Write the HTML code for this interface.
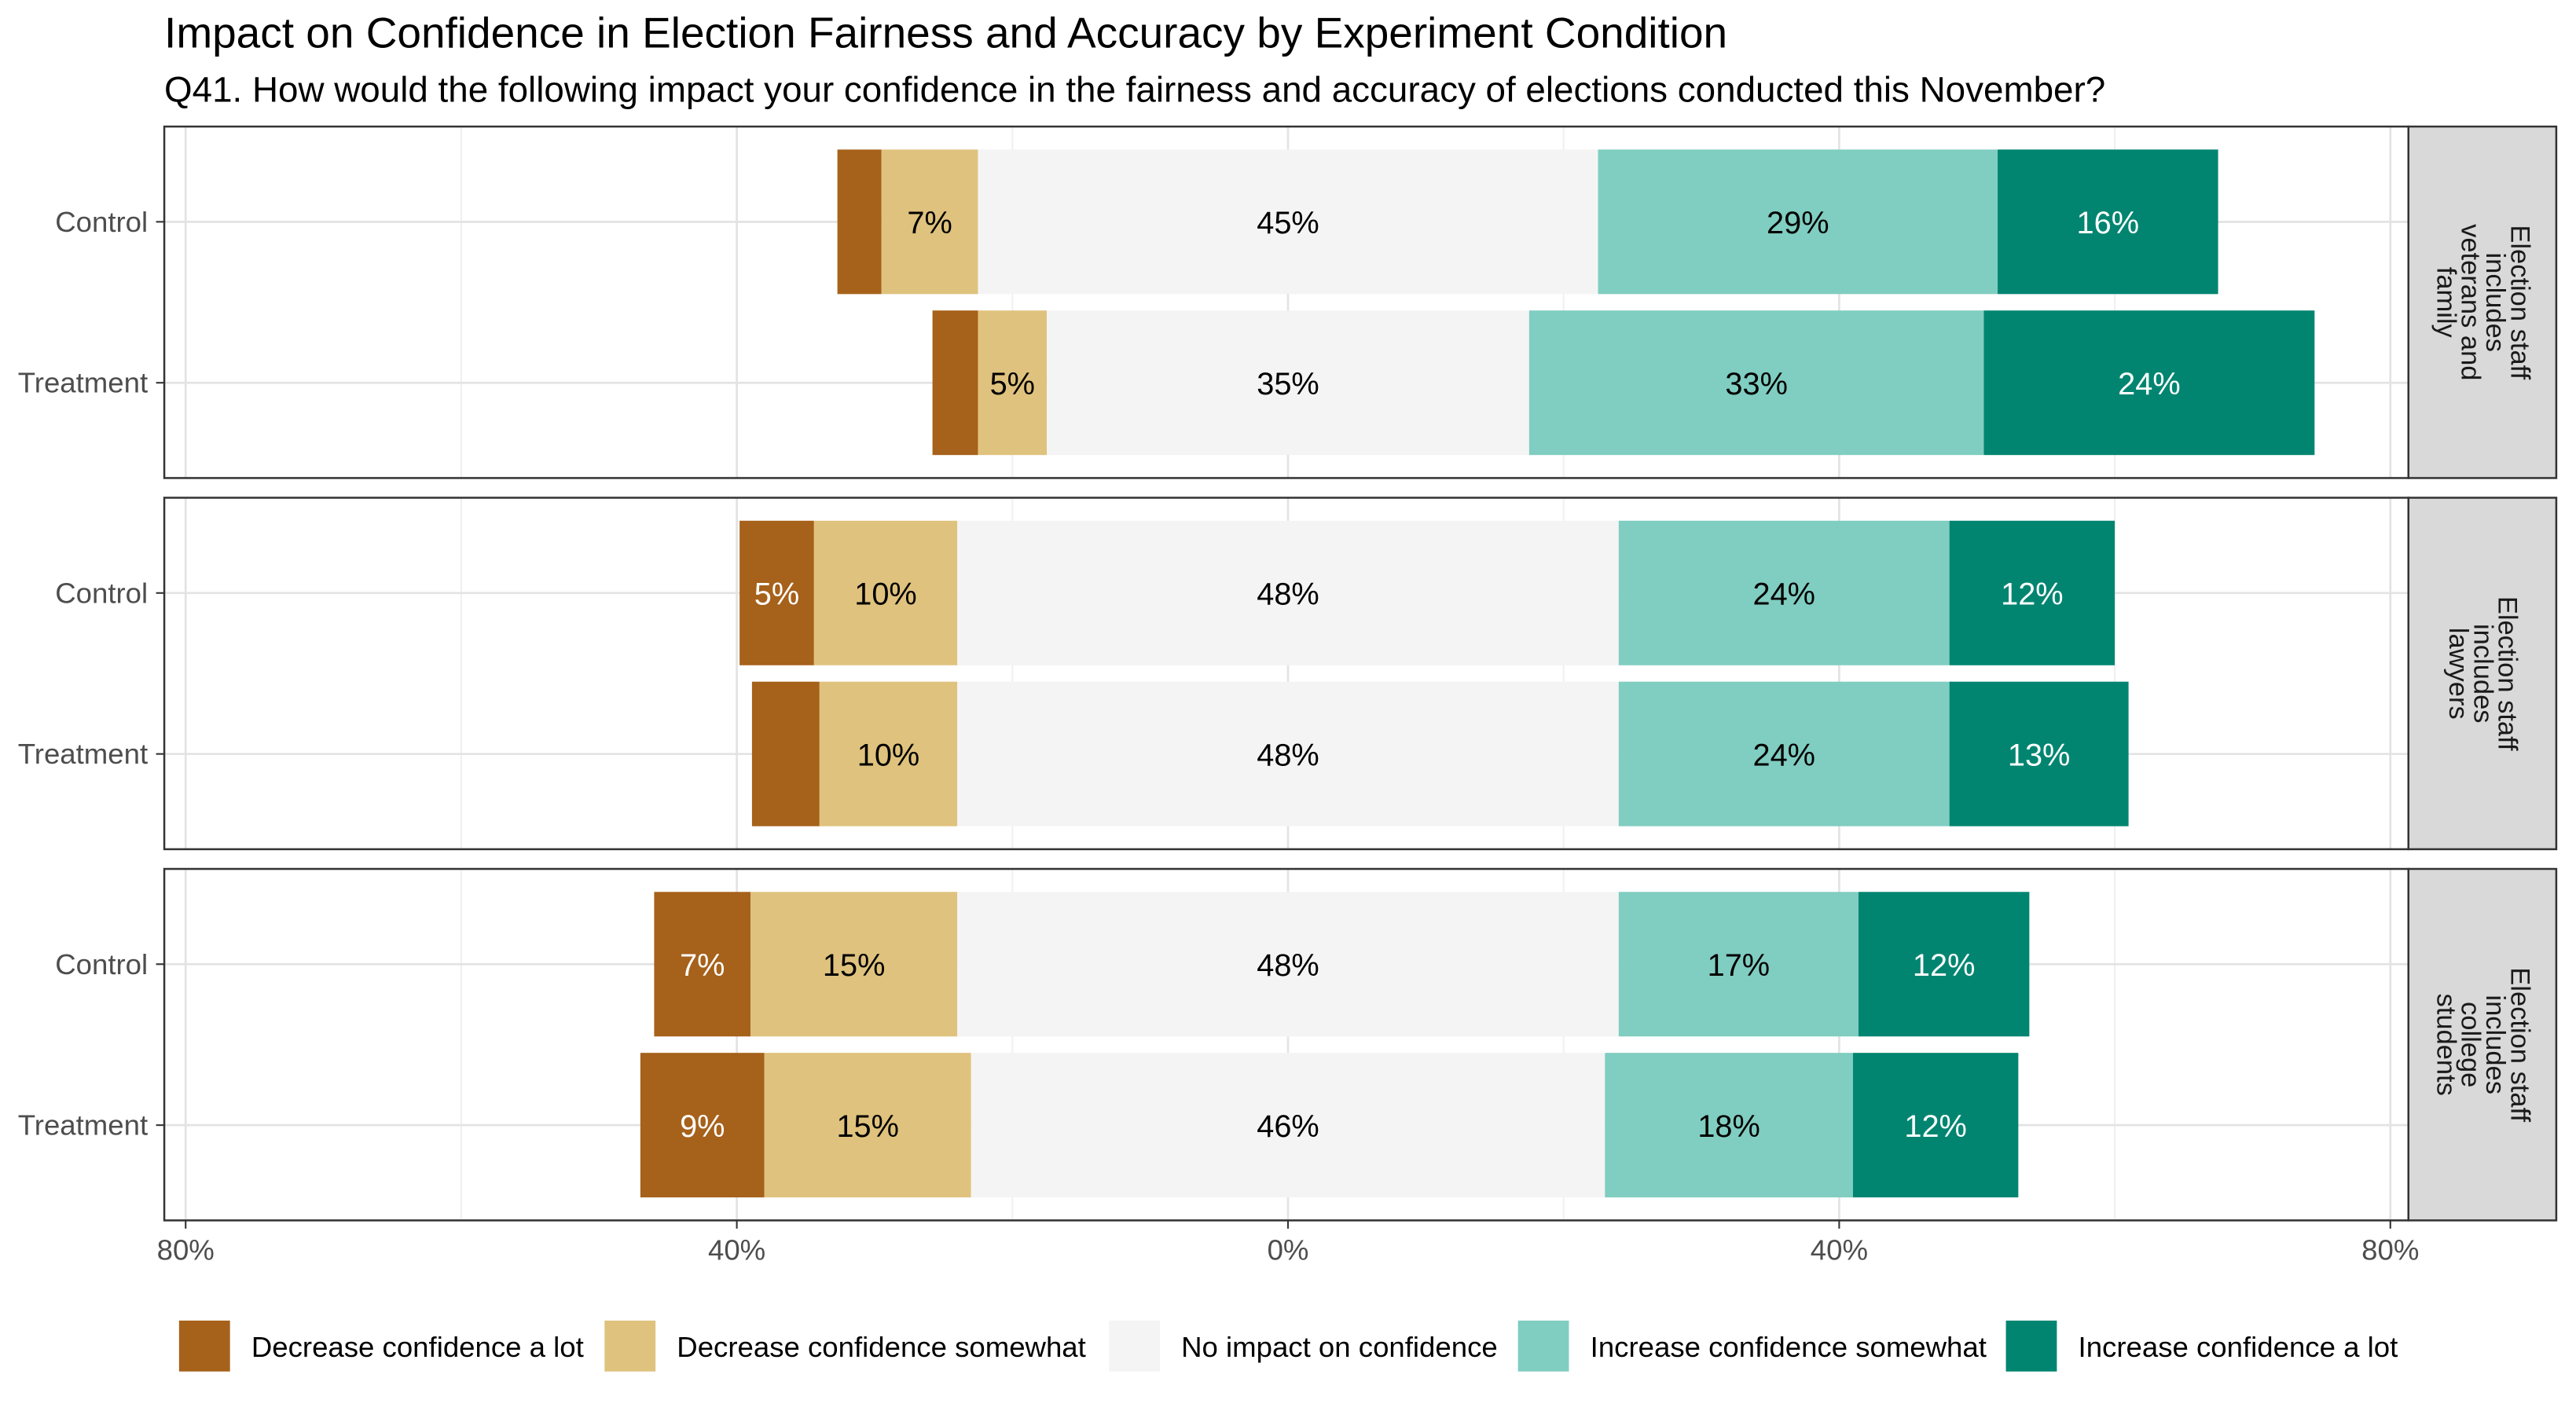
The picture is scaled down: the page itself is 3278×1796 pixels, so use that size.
<!DOCTYPE html>
<html><head><meta charset="utf-8"><style>
html,body{margin:0;padding:0;background:#fff}
svg{display:block;font-family:"Liberation Sans",Arial,sans-serif}
</style></head><body>
<svg id="chart" width="3278" height="1796" viewBox="0 0 1568 859" xmlns="http://www.w3.org/2000/svg">
<text x="100" y="29" font-size="26.3" fill="#000">Impact on Confidence in Election Fairness and Accuracy by Experiment Condition</text>
<text x="100" y="62" font-size="21.9" fill="#000">Q41. How would the following impact your confidence in the fairness and accuracy of elections conducted this November?</text>
<g id="plot"></g>
<g id="legend"></g>
</svg>
<script>
const panels = ["Election staff includes veterans and family","Election staff includes lawyers","Election staff includes college students"];
const stripLines = [["Election staff","includes","veterans and","family"],["Election staff","includes","lawyers"],["Election staff","includes","college","students"]];
const conditions = ["Control","Treatment"];
const categories = ["Decrease confidence a lot","Decrease confidence somewhat","No impact on confidence","Increase confidence somewhat","Increase confidence a lot"];
const decLot  = [[3.2,3.3],[5.4,4.9],[7,9]];
const decSome = [[7,5],[10.4,10],[15,15]];
const noImpact= [[45,35],[48,48],[48,46]];
const incSome = [[29,33],[24,24],[17.4,18]];
const incLot  = [[16,24],[12,13],[12.4,12]];
const xTicks = [-80,-40,0,40,80];
const xTickLabels = ["80%","40%","0%","40%","80%"];
const xMinor = [-60,-20,20,60];

const colors = ["#a6611a","#dfc27d","#f4f4f4","#80cdc1","#018571"];
const textColors = ["#fff","#000","#000","#000","#fff"];
const NS="http://www.w3.org/2000/svg";
const X0=100,X1=1466,panelTops=[77,303,529],PH=214;
const xs = v => 784 + v*(1455-113)/160;
const plot=document.getElementById('plot');
function mk(tag,attrs,parent){const e=document.createElementNS(NS,tag);for(const k in attrs)e.setAttribute(k,attrs[k]);parent.appendChild(e);return e;}

panels.forEach((p,pi)=>{
  const top=panelTops[pi];
  const g=mk('g',{},plot);
  
  
  mk('rect',{x:X0,y:top,width:X1-X0,height:PH,fill:'#fff'},g);
  xMinor.forEach(t=>{mk('line',{x1:xs(t),x2:xs(t),y1:top,y2:top+PH,stroke:'#f0f0f0','stroke-width':1},g);});
  xTicks.forEach(t=>{mk('line',{x1:xs(t),x2:xs(t),y1:top,y2:top+PH,stroke:'#e3e3e3','stroke-width':1.3},g);});
  conditions.forEach((c,ci)=>{
    const cy=top+58+ci*98;
    mk('line',{x1:X0,x2:X1,y1:cy,y2:cy,stroke:'#e3e3e3','stroke-width':1.3},g);
    const vals=[decLot[pi][ci],decSome[pi][ci],noImpact[pi][ci],incSome[pi][ci],incLot[pi][ci]];
    let start=-(vals[2]/2+vals[1]+vals[0]);
    vals.forEach((v,k)=>{
      const r=mk('rect',{x:xs(start),y:cy-44,width:xs(start+v)-xs(start),height:88,fill:colors[k]},g);
      
      
      if(v>=5){
        const t=mk('text',{x:(xs(start)+xs(start+v))/2,y:cy+7,'text-anchor':'middle','font-size':19,fill:textColors[k]},g);
        t.textContent=Math.round(v)+'%';
        
        
      }
      start+=v;
    });
    const yl=mk('text',{x:90,y:cy+6,'text-anchor':'end','font-size':17.5,fill:'#4d4d4d'},g);
    yl.textContent=c;
    
    
    mk('line',{x1:95,x2:X0,y1:cy,y2:cy,stroke:'#333','stroke-width':1},g);
  });
  mk('rect',{x:X0,y:top,width:X1-X0,height:PH,fill:'none',stroke:'#333','stroke-width':1.2},g);
  const s=mk('rect',{x:X1,y:top,width:90,height:PH,fill:'#d9d9d9',stroke:'#333','stroke-width':1.2},g);
  
  
  const lines=stripLines[pi];const n=lines.length;
  const st=mk('text',{transform:`translate(${X1+45},${top+PH/2}) rotate(90)`,'font-size':16.5,fill:'#1a1a1a','text-anchor':'middle'},g);
  
  
  lines.forEach((ln,i)=>{const ts=mk('tspan',{x:0,y:(-(n-1)/2+i)*15+5},st);ts.textContent=ln;});
});
const bottom=743;
xTicks.forEach((t,i)=>{
  mk('line',{x1:xs(t),x2:xs(t),y1:bottom,y2:bottom+5,stroke:'#333'},plot);
  const tl=mk('text',{x:xs(t),y:bottom+24,'text-anchor':'middle','font-size':17.5,fill:'#4d4d4d'},plot);
  tl.textContent=xTickLabels[i];
  
  
});
const leg=document.getElementById('legend');
const lx=[109,368,675,924,1221];
categories.forEach((c,k)=>{
  const r=mk('rect',{x:lx[k],y:804,width:31,height:31,fill:colors[k]},leg);
  
  
  const t=mk('text',{x:lx[k]+44,y:826,'font-size':17.5,fill:'#000'},leg);
  t.textContent=c;
  
  
});
</script>
</body></html>
